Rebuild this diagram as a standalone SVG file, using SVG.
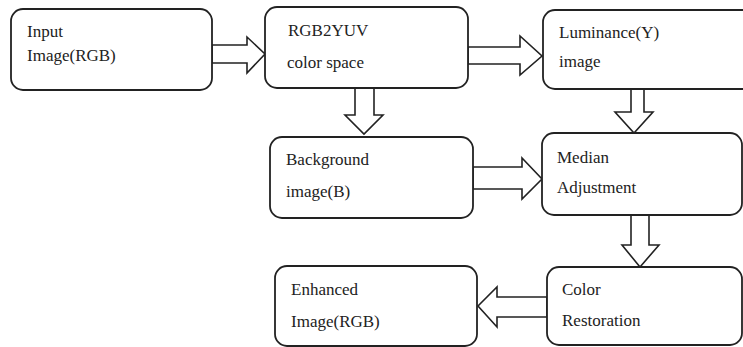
<svg xmlns="http://www.w3.org/2000/svg" width="743" height="347" viewBox="0 0 743 347">
<style>
.box{fill:#fff;stroke:#222;stroke-width:1.8}
.arr{fill:#fff;stroke:#222;stroke-width:1.6;stroke-linejoin:miter}
text{font-family:"Liberation Serif","Times New Roman",serif;font-size:17px;fill:#222}
</style>
<rect width="743" height="347" fill="#fff"/>
<g id="connectors">
<polygon class="arr" points="212,45 247,45 247,37 265,54 247,73 247,63 212,63"/>
<polygon class="arr" points="468,47 520,47 520,36 542,56 520,75 520,64 468,64"/>
<polygon class="arr" points="355,88 374,88 374,115 383,115 364,134 345,115 355,115"/>
<polygon class="arr" points="631,89 644,89 644,112 653,112 634,133 615,112 631,112"/>
<polygon class="arr" points="473,167 522,167 522,158 542,179 522,199 522,189 473,189"/>
<polygon class="arr" points="631,215 649,215 649,245 659,245 640,267 622,245 631,245"/>
<polygon class="arr" points="547,297 497,297 497,287 478,306 497,327 497,317 547,317"/>
</g>
<g id="n1"><rect class="box" x="11" y="9" width="201" height="81" rx="12"/><text x="27" y="37">Input</text><text x="27" y="61">Image(RGB)</text></g>
<g id="n2"><rect class="box" x="265" y="7" width="203" height="81" rx="12"/><text x="288" y="36">RGB2YUV</text><text x="287" y="68">color space</text></g>
<g id="n3"><rect class="box" x="543" y="10" width="217" height="79" rx="12"/><text x="559" y="38">Luminance(Y)</text><text x="559" y="67">image</text></g>
<g id="n4"><rect class="box" x="270" y="137" width="203" height="81" rx="12"/><text x="286" y="165">Background</text><text x="286" y="197">image(B)</text></g>
<g id="n5"><rect class="box" x="542" y="133" width="200" height="82" rx="12"/><text x="557" y="163">Median</text><text x="557" y="193">Adjustment</text></g>
<g id="n6"><rect class="box" x="275" y="266" width="202" height="80" rx="12"/><text x="291" y="295">Enhanced</text><text x="291" y="327">Image(RGB)</text></g>
<g id="n7"><rect class="box" x="547" y="267" width="195" height="78" rx="12"/><text x="562" y="295">Color</text><text x="562" y="326">Restoration</text></g>
</svg>
